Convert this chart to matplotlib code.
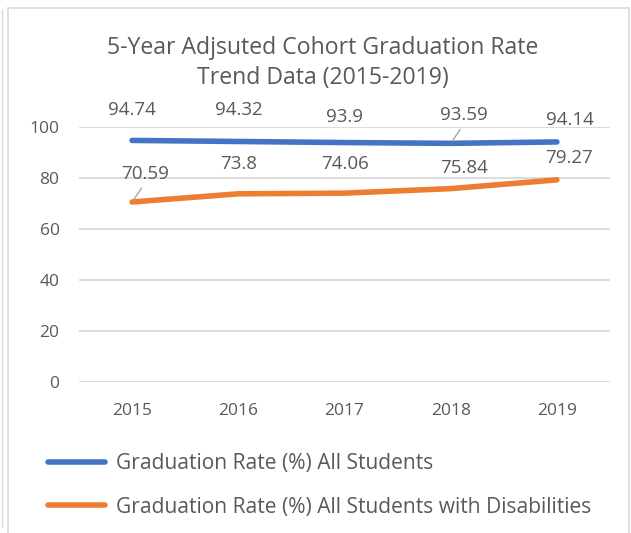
import matplotlib.pyplot as plt
from matplotlib.patches import Rectangle
from matplotlib.lines import Line2D

# chart data
years = ['2015', '2016', '2017', '2018', '2019']
all_students = [94.74, 94.32, 93.9, 93.59, 94.14]
disabilities = [70.59, 73.8, 74.06, 75.84, 79.27]
series_names = ['Graduation Rate (%) All Students',
                'Graduation Rate (%) All Students with Disabilities']

plt.rcParams['font.family'] = ['Open Sans', 'DejaVu Sans']
grey = '#595959'
blue = '#4472C4'
orange = '#ED7D31'

fig = plt.figure(figsize=(6.31, 5.33), dpi=100)
ax = fig.add_axes([79 / 631, 151 / 533, 531 / 631, 255 / 533])

x = list(range(len(years)))
ax.plot(x, all_students, color=blue, lw=4, solid_capstyle='round', label=series_names[0])
ax.plot(x, disabilities, color=orange, lw=4, solid_capstyle='round', label=series_names[1])

ax.set_xlim(-0.5, 4.5)
ax.set_ylim(0, 100)
ax.set_yticks(range(0, 101, 20))
ax.set_xticks(x, years)
ax.grid(axis='y', color='#D9D9D9', lw=1.3)
ax.set_axisbelow(True)
for s in ax.spines.values():
    s.set_visible(False)
ax.tick_params(axis='y', length=0, colors=grey, labelsize=12.5, pad=14)
ax.tick_params(axis='x', length=0, colors=grey, labelsize=12.5, pad=15)

# data labels (offsets in pixels, hand placed like the original)
blue_offsets = [(0, 30), (1, 31), (0, 26), (13, 28), (13, 22)]
orange_offsets = [(13, 28), (0, 30), (0, 29), (13, 21), (12, 22)]
blue_leader = [False, False, False, True, False]
orange_leader = [True, False, False, False, False]

for vals, offs, leads in [(all_students, blue_offsets, blue_leader),
                          (disabilities, orange_offsets, orange_leader)]:
    for i, v in enumerate(vals):
        arrow = None
        if leads[i]:
            arrow = dict(arrowstyle='-', color='#A6A6A6', lw=1,
                         shrinkA=2, shrinkB=2, relpos=(0.5, 0))
        ax.annotate(f'{v:g}', (i, v), xytext=offs[i], textcoords='offset pixels',
                    ha='center', va='center', fontsize=13.5, color=grey,
                    arrowprops=arrow)

fig.text(323 / 631, 1 - 48 / 533, '5-Year Adjsuted Cohort Graduation Rate',
         ha='center', va='center', fontsize=16.6, color=grey)
fig.text(323 / 631, 1 - 78 / 533, 'Trend Data (2015-2019)',
         ha='center', va='center', fontsize=16.6, color=grey)

fig.legend(loc='upper left', bbox_to_anchor=(48 / 631, 1 - 453 / 533),
           frameon=False, fontsize=15.1, labelcolor=grey, borderpad=0,
           borderaxespad=0, handlelength=2.72, handletextpad=0.53,
           labelspacing=1.08)

# chart area border
fig.patches.append(Rectangle((8 / 631, -0.01), 621 / 631, 1 - 8 / 533 + 0.01,
                             transform=fig.transFigure, fill=False,
                             edgecolor='#D9D9D9', lw=1.2))
fig.lines.append(Line2D([2 / 631, 2 / 631], [1 - 527 / 533, 1 - 10 / 533],
                        transform=fig.transFigure, color='#D9D9D9', lw=1))

fig.savefig('out.png', dpi=100)
